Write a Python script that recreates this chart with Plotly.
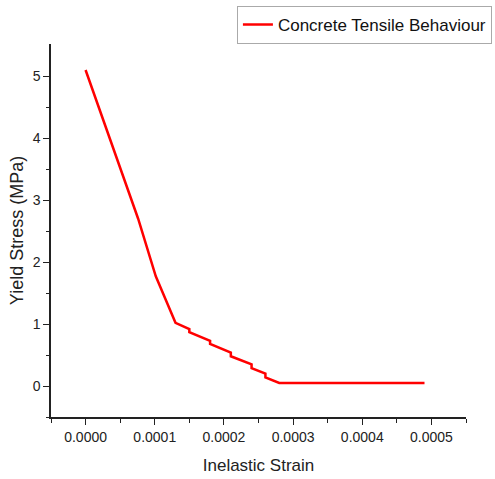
import plotly.graph_objects as go

strain = [0.0, 0.000076, 0.0001015, 0.00013, 0.00015, 0.00015, 0.00018, 0.00018,
          0.00021, 0.00021, 0.00024, 0.00024, 0.00026, 0.00026, 0.00028, 0.00049]
stress = [5.1, 2.70, 1.77, 1.02, 0.92, 0.87, 0.73, 0.68,
          0.54, 0.48, 0.35, 0.29, 0.20, 0.14, 0.05, 0.05]
series_name = "Concrete Tensile Behaviour"
x_title = "Inelastic Strain"
y_title = "Yield Stress (MPa)"
x_ticks = [0.0, 0.0001, 0.0002, 0.0003, 0.0004, 0.0005]
y_ticks = [0, 1, 2, 3, 4, 5]

font_family = "Arial, Liberation Sans, sans-serif"

fig = go.Figure()
fig.add_trace(go.Scatter(x=strain, y=stress, mode="lines", name=series_name,
                         line=dict(color="#ff0000", width=2.5)))

fig.update_layout(
    width=495, height=479,
    margin=dict(l=51, r=29, t=44, b=62, autoexpand=False),
    paper_bgcolor="white", plot_bgcolor="white",
    font=dict(family=font_family, color="#222222"),
    showlegend=True,
    legend=dict(x=0.448, y=1.102, xanchor="left", yanchor="top",
                bordercolor="#aaaaaa", borderwidth=1, bgcolor="white",
                font=dict(size=17, family=font_family, color="#111111"),
                itemwidth=30, tracegroupgap=0),
)
fig.update_xaxes(
    range=[-0.00005, 0.00055], tickvals=x_ticks, tickformat=".4f",
    showline=True, linecolor="#222222", linewidth=1.5, showgrid=False, zeroline=False,
    ticks="outside", ticklen=6, tickwidth=1.2, tickcolor="#222222",
    tickfont=dict(size=14, color="#222222"),
    minor=dict(tickvals=[-0.00005, 0.00005, 0.00015, 0.00025, 0.00035, 0.00045, 0.00055],
               ticks="outside", ticklen=4, tickwidth=1.2, tickcolor="#222222"),
    title=dict(text=x_title, font=dict(size=17, color="#222222"), standoff=16),
)
fig.update_yaxes(
    range=[-0.5, 5.52], tickvals=y_ticks,
    showline=True, linecolor="#222222", linewidth=1.5, showgrid=False, zeroline=False,
    ticks="outside", ticklen=6, tickwidth=1.2, tickcolor="#222222",
    tickfont=dict(size=14, color="#222222"),
    minor=dict(tickvals=[-0.5, 0.5, 1.5, 2.5, 3.5, 4.5],
               ticks="outside", ticklen=3, tickwidth=1.2, tickcolor="#222222"),
    title=dict(text=y_title, font=dict(size=18, color="#222222"), standoff=4),
)

fig.write_html("out.html")
